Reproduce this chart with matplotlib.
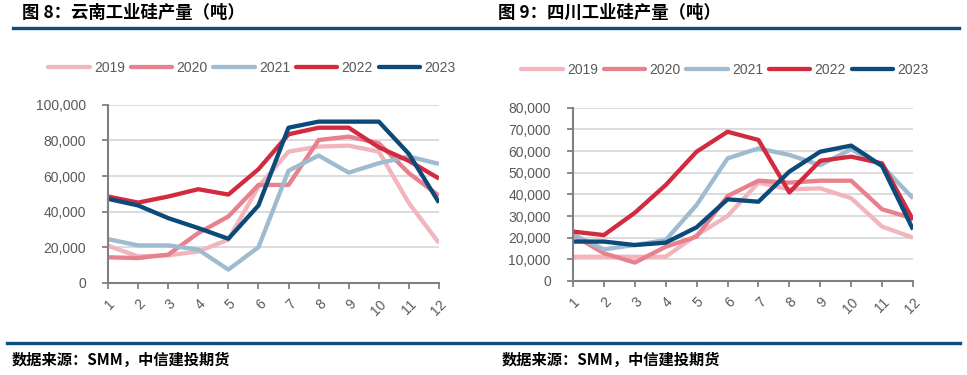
import matplotlib.pyplot as plt
import matplotlib.lines as mlines
from matplotlib.ticker import FuncFormatter

plt.rcParams['font.family'] = ['Liberation Sans', 'Noto Sans CJK SC', 'DejaVu Sans']

months = list(range(1, 13))
years = ['2019', '2020', '2021', '2022', '2023']
colors = ['#F2B5BE', '#E8808D', '#9EBBCF', '#D22A3F', '#0C4A7A']

# 云南工业硅产量（吨）
yunnan_2019 = [20900, 14900, 15500, 17700, 24300, 54000, 73700, 76500, 77000, 73700, 44800, 22400]
yunnan_2020 = [14400, 14000, 15900, 28000, 37300, 55000, 55000, 80200, 82100, 78400, 61600, 48900]
yunnan_2021 = [24600, 21100, 21100, 18700, 7500, 20100, 63000, 71500, 61900, 67200, 70900, 66800]
yunnan_2022 = [48500, 45100, 48500, 52600, 49600, 63800, 83400, 87100, 87100, 76100, 68500, 58600]
yunnan_2023 = [47200, 43500, 36400, 30800, 24800, 43500, 87100, 90500, 90500, 90500, 72400, 45100]

# 四川工业硅产量（吨）
sichuan_2019 = [11200, 11200, 11200, 11200, 21200, 30000, 45400, 42300, 42800, 38200, 25100, 20000]
sichuan_2020 = [21200, 12800, 8500, 15800, 20500, 39200, 46300, 45400, 46300, 46300, 33100, 28900]
sichuan_2021 = [21500, 14600, 16600, 18900, 35100, 56600, 61200, 58200, 53500, 60800, 53100, 38200]
sichuan_2022 = [22800, 21200, 31500, 44300, 59700, 68900, 65100, 40900, 55500, 57400, 54300, 28200]
sichuan_2023 = [18200, 18200, 16600, 17700, 24800, 37700, 36600, 50500, 59700, 62500, 53100, 23800]

W, H = 967, 375
fig = plt.figure(figsize=(W / 100, H / 100), dpi=100)


def px_axes(x0, y_top, x1, y_bot):
    return fig.add_axes([x0 / W, 1 - y_bot / H, (x1 - x0) / W, (y_bot - y_top) / H])


def draw_panel(ax, series, ymax, ystep):
    for vals, c in zip(series, colors):
        ax.plot(months, vals, color=c, lw=3.1, solid_capstyle='butt', solid_joinstyle='round')
    ax.set_xlim(1, 12)
    ax.set_ylim(0, ymax)
    ax.set_yticks(range(0, ymax + 1, ystep))
    ax.yaxis.set_major_formatter(FuncFormatter(lambda v, p: f'{int(v):,}'))
    ax.set_xticks(months)
    ax.set_xticklabels([str(m) for m in months], rotation=45, ha='right', va='top',
                       rotation_mode='anchor')
    ax.grid(True, axis='y', color='#D9D9D9', lw=1.3)
    ax.set_axisbelow(True)
    for s in ['top', 'right']:
        ax.spines[s].set_visible(False)
    for s in ['left', 'bottom']:
        ax.spines[s].set_color('#808080')
        ax.spines[s].set_linewidth(1.5)
    ax.tick_params(axis='both', colors='#808080', labelcolor='#595959', labelsize=10,
                   length=4, width=1.3, direction='out')
    ax.tick_params(axis='y', pad=12)
    ax.tick_params(axis='x', pad=6)


ax1 = px_axes(108, 104.7, 439, 283)
draw_panel(ax1, [yunnan_2019, yunnan_2020, yunnan_2021, yunnan_2022, yunnan_2023], 100000, 20000)

ax2 = px_axes(573, 107.7, 913, 281)
draw_panel(ax2, [sichuan_2019, sichuan_2020, sichuan_2021, sichuan_2022, sichuan_2023], 80000, 10000)

handles = [mlines.Line2D([], [], color=c, lw=3.1, solid_capstyle='round') for c in colors]
for cx, cy in [(252, 68), (725, 70)]:
    fig.legend(handles, years, loc='center', bbox_to_anchor=(cx / W, 1 - cy / H), ncol=5,
               frameon=False, fontsize=10, handlelength=3.0, handletextpad=0.3,
               columnspacing=0.4, labelcolor='#595959')

# titles and rules
title_font = ['Noto Sans CJK SC', 'DejaVu Sans']
fig.text(22 / W, 1 - 13 / H, '图 8：云南工业硅产量（吨）', fontsize=12.5, fontweight='bold',
         family=title_font, va='center', ha='left', color='#000000')
fig.text(498 / W, 1 - 13 / H, '图 9：四川工业硅产量（吨）', fontsize=12.5, fontweight='bold',
         family=title_font, va='center', ha='left', color='#000000')
fig.add_artist(mlines.Line2D([13 / W, 959 / W], [1 - 28 / H, 1 - 28 / H], color='#0D4C7B', lw=2.4))
fig.add_artist(mlines.Line2D([7 / W, 960 / W], [1 - 343 / H, 1 - 343 / H], color='#0D4C7B', lw=2.4))

for x in [12, 502]:
    fig.text(x / W, 1 - 360 / H, '数据来源：SMM，中信建投期货', fontsize=11, fontweight='bold',
             style='italic', family=title_font, va='center', ha='left', color='#000000')

fig.savefig('out.png', dpi=100)
